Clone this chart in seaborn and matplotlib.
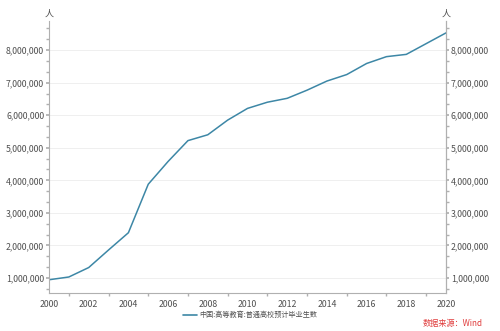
import matplotlib
matplotlib.use("Agg")
import matplotlib.pyplot as plt
import seaborn as sns
import pandas as pd
from matplotlib.ticker import FuncFormatter, MultipleLocator

years = list(range(2000, 2021))
graduates = [945000, 1030000, 1320000, 1860000, 2390000, 3880000, 4580000,
             5220000, 5400000, 5850000, 6210000, 6400000, 6520000, 6770000,
             7050000, 7250000, 7590000, 7800000, 7870000, 8200000, 8530000]
series_name = "中国:高等教育:普通高校预计毕业生数"
unit_label = "人"
source_text = "数据来源：Wind"
x_ticks = list(range(2000, 2021, 2))
y_ticks = [1000000, 2000000, 3000000, 4000000, 5000000, 6000000, 7000000, 8000000]

sns.set_theme(style="white")
plt.rcParams['font.family'] = ['Noto Sans CJK SC', 'DejaVu Sans']

df = pd.DataFrame({"year": years, "value": graduates, "series": series_name})

fig = plt.figure(figsize=(5.0, 3.31), dpi=100)
ax = fig.add_axes([0.098, 0.115, 0.794, 0.822])

line_color = "#3d87a6"
sns.lineplot(data=df, x="year", y="value", hue="series", palette=[line_color],
             linewidth=1.1, ax=ax, legend=False)

ymin, ymax = 540000, 8900000
ax.set_xlim(2000, 2020)
ax.set_ylim(ymin, ymax)
ax.set_xticks(x_ticks)
ax.xaxis.set_minor_locator(MultipleLocator(1))
ax.set_yticks(y_ticks)
ax.yaxis.set_minor_locator(MultipleLocator(1000000 / 3))
fmt = FuncFormatter(lambda v, p: f"{int(round(v)):,}")
ax.yaxis.set_major_formatter(fmt)
ax.set_xlabel("")
ax.set_ylabel("")

for y in y_ticks:
    ax.axhline(y, color="#ececec", linewidth=0.6, zorder=0)

axis_col = "#b0b0b0"
label_col = "#505050"
ax.spines["top"].set_visible(False)
for s in ["left", "right", "bottom"]:
    ax.spines[s].set_color(axis_col)
    ax.spines[s].set_linewidth(0.8)

ax.tick_params(axis="both", which="both", colors=axis_col, labelcolor=label_col,
               labelsize=6.3, direction="out")
ax.tick_params(axis="y", which="major", length=2.5, pad=1)
ax.tick_params(axis="y", which="minor", length=2.5, left=True)
ax.tick_params(axis="x", which="major", length=3, pad=2)
ax.tick_params(axis="x", which="minor", length=2.5, bottom=True)

ax2 = ax.twinx()
ax2.set_ylim(ymin, ymax)
ax2.set_yticks(y_ticks)
ax2.yaxis.set_minor_locator(MultipleLocator(1000000 / 3))
ax2.yaxis.set_major_formatter(fmt)
for s in ["top", "left", "bottom"]:
    ax2.spines[s].set_visible(False)
ax2.spines["right"].set_color(axis_col)
ax2.spines["right"].set_linewidth(0.8)
ax2.tick_params(axis="y", which="both", colors=axis_col, labelcolor=label_col,
                labelsize=6.3, direction="out")
ax2.tick_params(axis="y", which="major", length=2.5, pad=1)
ax2.tick_params(axis="y", which="minor", length=2.5, right=True)

fig.text(0.098, 0.958, unit_label, ha="center", va="center", fontsize=6.5, color=label_col)
fig.text(0.892, 0.958, unit_label, ha="center", va="center", fontsize=6.5, color=label_col)

# legend
fig.lines.append(plt.Line2D([0.366, 0.394], [0.048, 0.048], transform=fig.transFigure,
                            color=line_color, linewidth=1.2))
fig.text(0.398, 0.048, series_name, ha="left", va="center", fontsize=5.1, color=label_col)

fig.text(0.965, 0.022, source_text, ha="right", va="center", fontsize=5.9, color="#e03c3c")

fig.savefig("out.png", dpi=100, facecolor="white")
